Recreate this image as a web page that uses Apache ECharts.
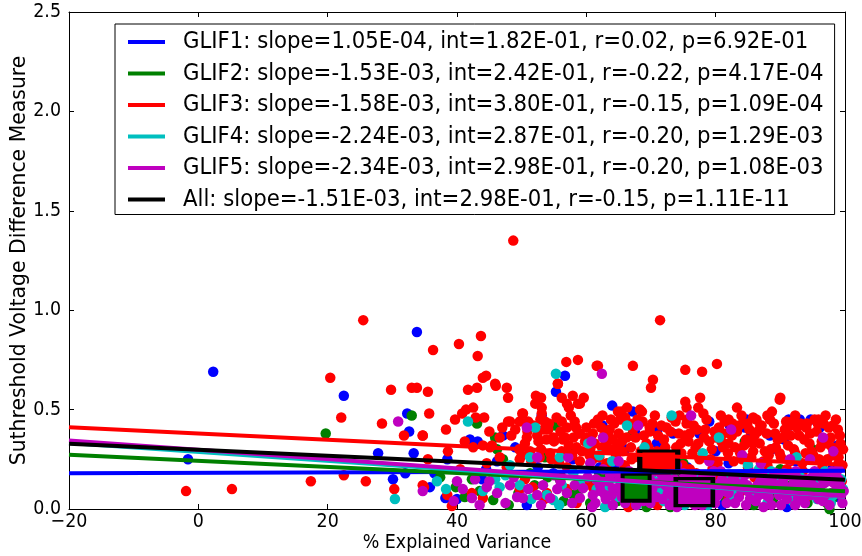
<!DOCTYPE html>
<html>
<head>
<meta charset="utf-8">
<script src="https://cdn.jsdelivr.net/npm/echarts@6/dist/echarts.min.js"></script>
<style>html,body{margin:0;padding:0;background:#fff}#c{width:862px;height:556px}</style>
</head>
<body>
<div id="c"></div>
<script>
// ---------------- data ----------------
const groupNames = ['GLIF1', 'GLIF2', 'GLIF3', 'GLIF4', 'GLIF5', 'All'];
const slopes = [1.05e-4, -1.53e-3, -1.58e-3, -2.24e-3, -2.34e-3, -1.51e-3];
const intercepts = [1.82e-1, 2.42e-1, 3.80e-1, 2.87e-1, 2.98e-1, 2.98e-1];
const rValues = [0.02, -0.22, -0.15, -0.20, -0.20, -0.15];
const pValues = [6.92e-1, 4.17e-4, 1.09e-4, 1.29e-3, 1.08e-3, 1.11e-11];
const xTicks = [-20, 0, 20, 40, 60, 80, 100];
const yTicks = [0.0, 0.5, 1.0, 1.5, 2.0, 2.5];

const glif1 = [[2.3,0.69],[-1.6,0.25],[22.5,0.57],[33.8,0.89],[27.8,0.28],[32.3,0.48],[32.6,0.39],[33.3,0.28],[30.1,0.15],[32.0,0.18],[35.8,0.11],[40.0,0.05],[42.0,0.35],[43.2,0.34],[47.1,0.37],[50.8,0.02],[56.7,0.67],[55.3,0.59],[64.0,0.52],[53.1,0.47],[38.5,0.25],[46.2,0.24],[52.5,0.21],[38.2,0.055],[43.9,0.15],[57.9,0.25],[54.9,0.18],[62.1,0.21],[64.1,0.16],[67.2,0.49],[91.3,0.45],[93.0,0.45],[94.7,0.45],[82.2,0.42],[84.8,0.45],[88.4,0.37],[91.5,0.42],[96.1,0.41],[84.5,0.41],[73.4,0.38],[70.9,0.33],[67.5,0.39],[88.7,0.30],[77.5,0.38],[80.0,0.29],[85.5,0.37],[90.6,0.35],[98.8,0.32],[69.5,0.27],[75.6,0.21],[82.0,0.23],[92.4,0.24],[98.0,0.20],[66.0,0.30],[71.0,0.40],[79.0,0.44],[62.5,0.42],[64.4,0.22],[95.5,0.16],[86.5,0.12],[72.6,0.10],[66.2,0.05],[78.5,0.07],[99.0,0.06],[91.0,0.01],[81.0,0.02],[44.5,0.20],[49.0,0.31],[59.5,0.12],[36.5,0.18]];

const glif2 = [[19.7,0.38],[33.0,0.47],[45.9,0.36],[55.2,0.42],[46.2,0.30],[43.1,0.43],[47.1,0.25],[37.4,0.16],[41.2,0.06],[45.6,0.045],[51.3,0.18],[53.6,0.26],[59.0,0.10],[60.6,0.03],[55.9,0.15],[63.2,0.16],[42.3,0.15],[64.8,0.04],[66.4,0.11],[67.9,0.07],[69.3,0.01],[70.7,0.12],[72.3,0.06],[74.0,0.15],[76.6,0.03],[79.8,0.09],[82.5,0.14],[85.9,0.02],[88.9,0.05],[91.6,0.12],[94.2,0.03],[96.5,0.08],[97.2,0.03],[97.6,0.00],[98.0,0.05],[99.1,0.11],[67.0,0.37],[75.0,0.23],[84.5,0.34],[95.0,0.30],[71.5,0.28],[62.0,0.18],[90.0,0.20],[57.5,0.30],[49.5,0.08],[39.8,0.11],[56.5,0.04],[52.0,0.12],
[43.5,0.09],[48.0,0.02],[54.0,0.16],[58.0,0.07],[61.0,0.12],[65.5,0.16],[69.0,0.05],[73.0,0.01],[78.0,0.13],[81.5,0.06],[87.0,0.15],[93.0,0.09]];

const glif3 = [[-1.9,0.09],[5.2,0.10],[17.4,0.14],[20.4,0.66],[22.1,0.46],[22.5,0.17],[25.5,0.95],[25.9,0.14],[29.8,0.60],[28.4,0.43],[31.8,0.37],[33.0,0.61],[33.8,0.61],[35.5,0.59],[34.7,0.37],[30.3,0.10],[34.7,0.12],[48.7,1.35],[36.3,0.80],[40.3,0.83],[43.7,0.87],[43.2,0.77],[44.5,0.67],[44.0,0.66],[45.9,0.63],[47.7,0.61],[41.7,0.60],[43.1,0.61],[56.9,0.74],[58.7,0.75],[55.6,0.63],[56.2,0.56],[57.3,0.51],[57.9,0.57],[59.6,0.56],[61.6,0.72],[52.2,0.57],[53.0,0.56],[53.1,0.51],[50.2,0.48],[48.2,0.44],[42.9,0.46],[44.2,0.46],[41.4,0.50],[42.5,0.51],[39.7,0.45],[35.7,0.48],[38.3,0.40],[39.2,0.015],[38.6,0.29],
[46.0,0.62],[47.9,0.56],[52.1,0.53],[53.1,0.48],[55.6,0.63],[58.7,0.53],[40.8,0.48],[47.9,0.44],[50.1,0.48],[49.7,0.44],[51.0,0.44],[53.6,0.44],[56.2,0.44],[34.7,0.37],[46.6,0.36],[45.4,0.32],[41.2,0.34],[50.8,0.36],[52.4,0.37],[57.0,0.41],[54.1,0.40],[54.9,0.36],[56.4,0.35],[58.0,0.36],[59.0,0.38],[60.1,0.36],[61.0,0.38],[62.6,0.36],[64.1,0.35],[42.5,0.31],[44.0,0.32],[45.1,0.31],[46.6,0.26],[49.7,0.25],[51.3,0.29],[52.8,0.26],[54.4,0.28],[56.2,0.29],[58.5,0.31],[60.6,0.30],[63.2,0.30],[64.7,0.31],[35.5,0.25],[40.5,0.20],[44.6,0.23],[47.7,0.21],[57.0,0.21],[59.0,0.24],[61.0,0.25],[63.2,0.23],[34.9,0.11],[38.5,0.07],[42.3,0.08],[44.0,0.055],[49.7,0.10],[51.7,0.11],[53.9,0.08],[57.0,0.10],[61.0,0.11],[63.2,0.08],
[49.0,0.40],[50.5,0.33],[51.8,0.42],[53.0,0.30],[54.2,0.43],[55.0,0.34],[56.0,0.39],[57.3,0.32],[58.2,0.44],[59.3,0.29],[60.0,0.41],[61.3,0.33],[62.0,0.26],[55.8,0.23],[50.0,0.27],[53.8,0.35],[58.8,0.38],[47.0,0.41],[45.0,0.39],[63.6,0.40],[61.8,0.45],[57.6,0.47],[52.9,0.45],
[62.3,0.41],[63.1,0.33],[63.8,0.45],[64.6,0.27],[65.0,0.38],[65.9,0.22],[66.4,0.43],[66.9,0.31],[67.6,0.36],[68.1,0.26],[68.7,0.44],[69.3,0.33],[69.8,0.39],[70.5,0.24],[70.9,0.29],[71.6,0.42],[72.0,0.35],[72.8,0.27],[73.2,0.46],[73.9,0.31],[74.3,0.38],[74.9,0.22],[75.5,0.43],[75.8,0.34],[76.4,0.28],[77.1,0.40],[77.5,0.25],[78.2,0.36],[78.6,0.45],[79.4,0.30],[79.8,0.39],[80.3,0.23],[80.9,0.34],[81.4,0.44],[81.9,0.28],[82.5,0.37],[83.0,0.31],[83.6,0.42],[84.1,0.25],[84.7,0.35],[85.2,0.40],[85.8,0.29],[86.3,0.45],[86.8,0.33],[87.4,0.24],[87.9,0.38],[88.5,0.30],[89.0,0.43],[89.6,0.35],[90.1,0.26],[90.7,0.40],[91.2,0.32],[91.8,0.44],[92.3,0.28],[92.9,0.37],[93.4,0.23],[94.0,0.41],[94.5,0.33],[95.1,0.27],[95.6,0.39],[96.2,0.31],[96.7,0.43],[97.3,0.25],[97.8,0.36],[98.4,0.29],[98.9,0.40],[99.3,0.33],[99.6,0.22],
[62.8,0.37],[64.0,0.30],[65.5,0.34],[67.2,0.40],[68.4,0.29],[69.9,0.27],[71.1,0.37],[72.4,0.41],[73.5,0.25],[74.6,0.33],[76.0,0.38],[76.9,0.31],[78.0,0.26],[79.0,0.34],[80.5,0.41],[81.1,0.31],[82.8,0.24],[83.3,0.39],[84.4,0.32],[85.5,0.26],[86.0,0.37],[87.1,0.42],[88.2,0.27],[89.3,0.31],[90.4,0.36],[91.5,0.24],[92.6,0.41],[93.7,0.35],[94.8,0.29],[95.9,0.45],[97.0,0.34],[98.1,0.42],[99.0,0.26],
[48.4,0.37],[49.6,0.30],[50.9,0.39],[51.5,0.24],[52.6,0.34],[53.4,0.40],[54.6,0.25],[55.4,0.46],[56.7,0.36],[57.8,0.27],[58.4,0.41],[59.8,0.34],[60.5,0.27],[61.2,0.43],[62.4,0.31],[63.4,0.37],[64.3,0.43],[65.6,0.29],[66.2,0.36],[67.0,0.25],[67.9,0.45],[68.9,0.37],[69.6,0.31],[70.2,0.43],[71.3,0.26],[72.2,0.31],[73.0,0.39],[73.8,0.44],[74.7,0.28],[75.2,0.37],[76.6,0.42],[77.3,0.33],[78.4,0.40],[79.2,0.25],[80.0,0.36],[81.2,0.38],[82.0,0.33],[82.6,0.43],[83.8,0.28],[84.9,0.43],[85.7,0.33],[86.5,0.39],[87.6,0.29],[88.4,0.45],[89.2,0.38],[89.9,0.28],[90.9,0.44],[91.6,0.37],[92.1,0.30],[93.1,0.43],[93.9,0.28],[94.6,0.38],[95.3,0.45],[96.0,0.25],[96.4,0.34],[97.5,0.41],[98.0,0.31],[98.6,0.45],[99.2,0.37],[99.7,0.30],[70.6,0.47],[80.8,0.47],[84.0,0.47],[88.0,0.47],[92.3,0.47],[97.0,0.47],[62.5,0.47],[66.0,0.46],[74.4,0.47],[78.1,0.48],
[67.2,0.72],[75.3,0.70],[77.9,0.69],[80.2,0.73],[70.3,0.65],[70.0,0.61],[75.3,0.54],[75.5,0.51],[77.6,0.56],[77.3,0.51],[90.0,0.56],[83.3,0.51],[88.7,0.49],[65.4,0.49],[66.3,0.51],[68.6,0.49],[75.6,0.45],[82.0,0.45],[84.2,0.43],[85.8,0.46],[86.9,0.42],[94.1,0.43],[95.8,0.43],[66.7,0.43],[71.4,0.95],[61.8,0.72],[57.0,0.53],[59.0,0.53],[64.9,0.49],[68.3,0.50],[65.2,0.45],[69.8,0.41],[89.9,0.55],[91.5,0.42],[97.2,0.33],[98.2,0.27],
[50.5,0.15],[53.5,0.05],[56.0,0.17],[58.5,0.03],[62.0,0.13],[64.5,0.06],[68.5,0.15],[73.0,0.09],[77.0,0.18],[82.0,0.05],[86.0,0.16],[90.0,0.11],[94.0,0.06],[97.5,0.04],[99.5,0.14],[66.5,0.01],[71.0,0.02],[80.0,0.15],[70.0,0.17],[92.0,0.18],[60.0,0.14],[84.0,0.09],[88.0,0.12],[75.0,0.06],
[66.0,0.21],[72.5,0.19],[79.5,0.20],[85.0,0.21],[91.0,0.20],[96.5,0.21],[63.0,0.22],[69.0,0.20],[76.0,0.20],[88.0,0.22],[93.5,0.19],[99.0,0.23]];

const glif4 = [[30.4,0.05],[55.3,0.68],[36.9,0.14],[38.3,0.10],[41.7,0.44],[52.1,0.41],[51.3,0.26],[55.9,0.26],[45.9,0.15],[46.6,0.11],[49.7,0.12],[56.2,0.12],[60.3,0.33],[64.0,0.24],[53.9,0.07],[59.0,0.13],[54.9,0.045],[48.2,0.22],
[63.5,0.11],[65.0,0.06],[66.2,0.16],[67.8,0.02],[69.0,0.09],[70.6,0.14],[72.0,0.04],[73.3,0.18],[74.5,0.13],[76.0,0.07],[77.3,0.16],[78.8,0.02],[80.1,0.10],[81.4,0.17],[82.8,0.05],[84.0,0.15],[85.3,0.08],[86.7,0.20],[88.0,0.03],[89.2,0.14],[90.5,0.09],[91.9,0.04],[93.1,0.16],[94.4,0.10],[95.7,0.05],[96.9,0.19],[98.2,0.07],[99.4,0.15],
[73.2,0.47],[66.3,0.42],[72.0,0.21],[78.0,0.28],[85.0,0.22],[80.5,0.36],[69.0,0.31],[92.5,0.26],[62.0,0.27],
[44.0,0.09],[47.5,0.17],[51.5,0.05],[55.8,0.02],[58.0,0.18],[61.6,0.10],[62.9,0.01],[66.9,0.08],[71.2,0.09],[75.2,0.02],[79.0,0.13],[83.3,0.09],[87.3,0.11],[90.9,0.17],[95.1,0.13],[97.8,0.03],[99.7,0.10],[68.3,0.18],[88.6,0.19]];

const glif5 = [[30.9,0.44],[34.7,0.09],[50.8,0.41],[52.4,0.26],[60.8,0.34],[62.6,0.36],[57.2,0.26],[60.6,0.23],[40.0,0.14],[40.9,0.10],[42.8,0.15],[44.6,0.11],[42.3,0.055],[46.2,0.08],[48.2,0.12],[49.3,0.06],[50.2,0.055],[52.4,0.07],[53.3,0.12],[55.5,0.10],[57.0,0.08],[59.5,0.105],[61.0,0.07],[62.9,0.07],[64.1,0.105],[59.0,0.055],[54.4,0.055],
[62.1,0.12],[63.0,0.05],[63.7,0.17],[64.5,0.09],[65.3,0.14],[66.0,0.03],[66.6,0.19],[67.4,0.08],[68.0,0.13],[68.8,0.04],[69.5,0.16],[70.2,0.10],[70.8,0.06],[71.5,0.18],[72.2,0.12],[72.9,0.02],[73.6,0.15],[74.2,0.08],[74.9,0.11],[75.7,0.04],[76.3,0.17],[77.0,0.09],[77.6,0.14],[78.3,0.05],[79.1,0.12],[79.7,0.19],[80.4,0.07],[81.0,0.15],[81.7,0.03],[82.3,0.11],[83.0,0.17],[83.6,0.06],[84.3,0.13],[85.0,0.09],[85.6,0.18],[86.2,0.04],[86.9,0.14],[87.5,0.10],[88.2,0.06],[88.8,0.16],[89.5,0.12],[90.1,0.02],[90.8,0.08],[91.4,0.17],[92.1,0.13],[92.7,0.05],[93.4,0.10],[94.0,0.15],[94.7,0.07],[95.3,0.19],[96.0,0.11],[96.6,0.04],[97.3,0.14],[97.9,0.08],[98.6,0.17],[99.2,0.12],[99.6,0.03],
[62.6,0.20],[64.1,0.02],[65.8,0.10],[67.0,0.15],[68.4,0.19],[69.9,0.03],[71.1,0.13],[72.6,0.08],[73.9,0.20],[75.3,0.14],[76.8,0.02],[78.0,0.11],[79.4,0.06],[80.8,0.19],[82.0,0.08],[83.3,0.13],[84.7,0.02],[86.0,0.10],[87.2,0.18],[88.5,0.13],[89.8,0.07],[91.1,0.11],[92.4,0.19],[93.8,0.03],[95.0,0.12],[96.3,0.16],[97.6,0.02],[98.8,0.10],
[62.4,0.68],[76.2,0.47],[68.0,0.42],[82.4,0.40],[96.6,0.36],[98.2,0.29],[94.6,0.25],[84.1,0.27],[91.5,0.25],[74.0,0.22],[87.0,0.23],[70.5,0.27],[79.0,0.24],[65.0,0.24],[99.0,0.20],
[60.2,0.16],[61.4,0.03],[62.2,0.09],[63.4,0.14],[64.8,0.18],[65.5,0.06],[66.7,0.12],[67.7,0.02],[68.6,0.10],[69.2,0.13],[70.5,0.19],[71.8,0.05],[72.4,0.16],[73.2,0.11],[74.6,0.04],[75.0,0.18],[76.0,0.11],[77.3,0.06],[78.0,0.16],[78.7,0.09],[79.9,0.03],[80.6,0.13],[81.4,0.09],[82.6,0.15],[83.9,0.10],[84.5,0.17],[85.3,0.05],[86.5,0.12],[87.8,0.07],[88.6,0.02],[89.3,0.18],[90.4,0.14],[91.0,0.05],[91.8,0.09],[92.9,0.15],[93.6,0.07],[94.3,0.12],[95.6,0.09],[96.9,0.07],[97.1,0.17],[98.3,0.13],[99.4,0.07],[56.0,0.14],[57.8,0.03],[58.2,0.12],[55.0,0.17],[53.0,0.02],[51.0,0.10],[47.5,0.03],[45.0,0.14],[43.5,0.02],[39.5,0.04],[48.8,0.16],[61.5,0.15],
[60.9,0.01],[63.9,0.07],[66.3,0.16],[69.7,0.07],[71.9,0.15],[74.0,0.01],[75.6,0.09],[77.9,0.02],[79.2,0.16],[81.9,0.13],[83.0,0.03],[84.9,0.12],[86.7,0.07],[88.0,0.15],[89.1,0.10],[90.6,0.18],[92.3,0.02],[93.1,0.12],[94.9,0.16],[95.9,0.05],[96.8,0.13],[98.0,0.19],[99.0,0.15],[99.8,0.09],[87.4,0.01],[80.2,0.10],[76.5,0.13],[73.4,0.06],[70.0,0.14],[65.0,0.11]];

// black-edged square marks sitting in the dense cluster
const squareCenters = [[67.7,0.11],[76.7,0.085],[71.2,0.236]];

// ---------------- styles ----------------
const colors = ['#0000FF', '#008000', '#FF0000', '#00BFBF', '#BF00BF', '#000000'];
const squareFills = ['#008000', '#BF00BF', '#FF0000'];
const squareSizes = [[27, 27], [37, 27], [38, 22]];
const COND = "'DejaVu Sans Condensed', 'DejaVu Sans', sans-serif";
const NORM = "'DejaVu Sans', sans-serif";

function fmtE(v) {
  const s = v.toExponential(2).toUpperCase();
  const m = s.match(/^(-?[\d.]+)E([+-])(\d+)$/);
  const exp = m[3].length < 2 ? '0' + m[3] : m[3];
  return m[1] + 'E' + m[2] + exp;
}
const labels = groupNames.map((n, i) =>
  n + ': slope=' + fmtE(slopes[i]) + ', int=' + fmtE(intercepts[i]) +
  ', r=' + rValues[i].toFixed(2) + ', p=' + fmtE(pValues[i]));

const X0 = xTicks[0], X1 = xTicks[xTicks.length - 1];
const scatterSets = [glif1, glif2, glif3, glif4, glif5];

const series = [];
scatterSets.forEach((d, i) => {
  series.push({
    type: 'scatter', name: groupNames[i] + ' pts', data: d, symbol: 'circle', symbolSize: 10.5,
    itemStyle: { color: colors[i], opacity: 1, borderWidth: 0 },
    z: 2, silent: true, clip: true
  });
});
series.push({
  type: 'scatter', data: squareCenters, symbol: 'rect',
  symbolSize: (v, p) => squareSizes[p.dataIndex],
  itemStyle: { color: (p) => squareFills[p.dataIndex], borderColor: '#000', borderWidth: 4, opacity: 1 },
  z: 2, silent: true
});
labels.forEach((lab, i) => {
  series.push({
    type: 'line', name: lab,
    data: [[X0, intercepts[i] + slopes[i] * X0], [X1, intercepts[i] + slopes[i] * X1]],
    showSymbol: false, symbol: 'none',
    lineStyle: { color: colors[i], width: 4 },
    itemStyle: { color: colors[i] },
    z: 3, silent: true
  });
});

const axisCommon = {
  axisLine: { show: true, onZero: false, lineStyle: { color: '#000', width: 1 } },
  axisTick: { show: true, inside: true, length: 5, lineStyle: { color: '#000', width: 1 } },
  splitLine: { show: false }
};

const chart = echarts.init(document.getElementById('c'), null, { renderer: 'canvas' });
chart.setOption({
  animation: false,
  backgroundColor: '#fff',
  grid: { left: 69, right: 17, top: 12, bottom: 47, containLabel: false, outerBoundsMode: 'none' },
  xAxis: [
    Object.assign({
      type: 'value', min: X0, max: X1, interval: 20, position: 'bottom',
      name: '% Explained Variance', nameLocation: 'middle', nameGap: 24, nameMoveOverlap: false,
      nameTextStyle: { fontFamily: COND, fontSize: 19.4, color: '#000' },
      axisLabel: { show: true, margin: 3, fontFamily: COND, fontSize: 19.4, color: '#000',
        formatter: v => (v < 0 ? '\u2212' : '') + Math.abs(v) }
    }, axisCommon),
    Object.assign({
      type: 'value', min: X0, max: X1, interval: 20, position: 'top',
      axisLabel: { show: false }
    }, axisCommon)
  ],
  yAxis: [
    Object.assign({
      type: 'value', min: yTicks[0], max: yTicks[yTicks.length - 1], interval: 0.5, position: 'left',
      name: 'Suthreshold Voltage Difference Measure', nameLocation: 'middle', nameGap: 39, nameMoveOverlap: false,
      nameTextStyle: { fontFamily: NORM, fontSize: 20.4, color: '#000' },
      axisLabel: { show: true, margin: 8, fontFamily: COND, fontSize: 19.4, color: '#000',
        formatter: v => v.toFixed(1) }
    }, axisCommon),
    Object.assign({
      type: 'value', min: yTicks[0], max: yTicks[yTicks.length - 1], interval: 0.5, position: 'right',
      axisLabel: { show: false }
    }, axisCommon)
  ],
  legend: {
    show: true, orient: 'vertical', left: 115, top: 24,
    data: labels, selectedMode: false,
    icon: 'rect', itemWidth: 37, itemHeight: 4, itemGap: 7.5,
    padding: [6, 11, 3, 13],
    backgroundColor: '#fff', borderColor: '#000', borderWidth: 1, borderRadius: 0,
    textStyle: { fontFamily: COND, fontSize: 23.6, lineHeight: 24, color: '#000', padding: [0, 0, 0, 13] }
  },
  series: series
});
</script>
</body>
</html>
